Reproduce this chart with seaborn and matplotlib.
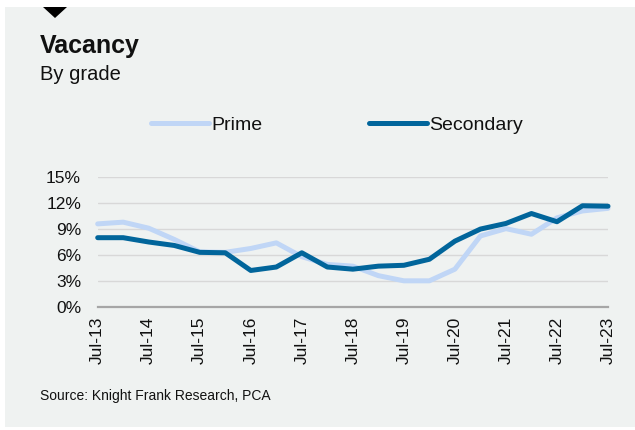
import pandas as pd
import matplotlib.pyplot as plt
import seaborn as sns
from matplotlib.patches import Rectangle, Polygon

# half-yearly periods, Jul-13 .. Jul-23
periods = ['Jul-13', 'Jan-14', 'Jul-14', 'Jan-15', 'Jul-15', 'Jan-16', 'Jul-16',
           'Jan-17', 'Jul-17', 'Jan-18', 'Jul-18', 'Jan-19', 'Jul-19', 'Jan-20',
           'Jul-20', 'Jan-21', 'Jul-21', 'Jan-22', 'Jul-22', 'Jan-23', 'Jul-23']
prime = [9.6, 9.8, 9.1, 7.8, 6.35, 6.3, 6.75, 7.4, 5.8, 4.9, 4.7,
         3.6, 3.0, 3.0, 4.35, 8.2, 9.05, 8.4, 10.3, 11.1, 11.4]
secondary = [8.0, 8.0, 7.5, 7.1, 6.3, 6.25, 4.2, 4.6, 6.25, 4.6, 4.35,
             4.7, 4.8, 5.5, 7.6, 9.0, 9.65, 10.8, 9.85, 11.7, 11.65]
y_ticks = [0, 3, 6, 9, 12, 15]

bg = '#eff2f1'
ink = '#111111'
palette = {'Prime': '#c0d6f6', 'Secondary': '#01659b'}

df = pd.DataFrame({'idx': list(range(len(periods))) * 2,
                   'Vacancy': prime + secondary,
                   'Grade': ['Prime'] * len(prime) + ['Secondary'] * len(secondary)})

sns.set_style('white')
plt.rcParams['font.family'] = ['Liberation Sans', 'DejaVu Sans']
plt.rcParams['text.color'] = ink

fig = plt.figure(figsize=(6.35, 4.3), dpi=100, facecolor='white')
W, H = 635, 430
# grey panel and the small marker triangle at the top
fig.patches.append(Rectangle((5 / W, 3 / H), 630 / W, 420 / H, transform=fig.transFigure,
                             facecolor=bg, edgecolor='none', zorder=-5))
fig.patches.append(Polygon([(43 / W, 1 - 7 / H), (67 / W, 1 - 7 / H), (55 / W, 1 - 18 / H)],
                           closed=True, transform=fig.transFigure,
                           facecolor='black', edgecolor='none', zorder=-4))

ax = fig.add_axes([97.7 / W, 1 - 306.7 / H, 510.3 / W, 129.4 / H])
ax.patch.set_alpha(0)

sns.lineplot(data=df, x='idx', y='Vacancy', hue='Grade', palette=palette,
             linewidth=3.6, ax=ax, legend=True)
for line in ax.lines:
    line.set_solid_capstyle('round')
    line.set_solid_joinstyle('round')
    line.set_clip_on(False)

ax.set_xlim(0, len(periods) - 1)
ax.set_ylim(0, 15)
ax.set_yticks(y_ticks)
ax.set_yticklabels([f'{t}%' for t in y_ticks])
ax.set_xticks(list(range(0, len(periods), 2)))
ax.set_xticklabels(periods[::2], rotation=90)
ax.tick_params(axis='both', length=0, labelsize=12.5, colors=ink)
ax.tick_params(axis='x', pad=7)
ax.tick_params(axis='y', pad=12)
ax.grid(axis='y', color='#d8d8d8', linewidth=1.0)
ax.set_axisbelow(True)
ax.set_xlabel('')
ax.set_ylabel('')
for s in ['top', 'right', 'left']:
    ax.spines[s].set_visible(False)
ax.spines['bottom'].set_color('#a6a6a6')
ax.spines['bottom'].set_linewidth(1.6)

leg = ax.legend(loc='center', bbox_to_anchor=(337 / W, 1 - 125 / H), bbox_transform=fig.transFigure,
                ncol=2, frameon=False, fontsize=14, handlelength=3.0, handletextpad=0.1,
                columnspacing=5.5, title=None)
for t in leg.get_texts():
    t.set_color(ink)

fig.text(40 / W, 1 - 46 / H, 'Vacancy', fontsize=18, fontweight='bold', va='center', ha='left')
fig.text(40 / W, 1 - 75 / H, 'By grade', fontsize=14.5, va='center', ha='left')
fig.text(40 / W, 1 - 396 / H, 'Source: Knight Frank Research, PCA', fontsize=10,
         va='center', ha='left')

plt.savefig('out.png', dpi=100, facecolor='white')
